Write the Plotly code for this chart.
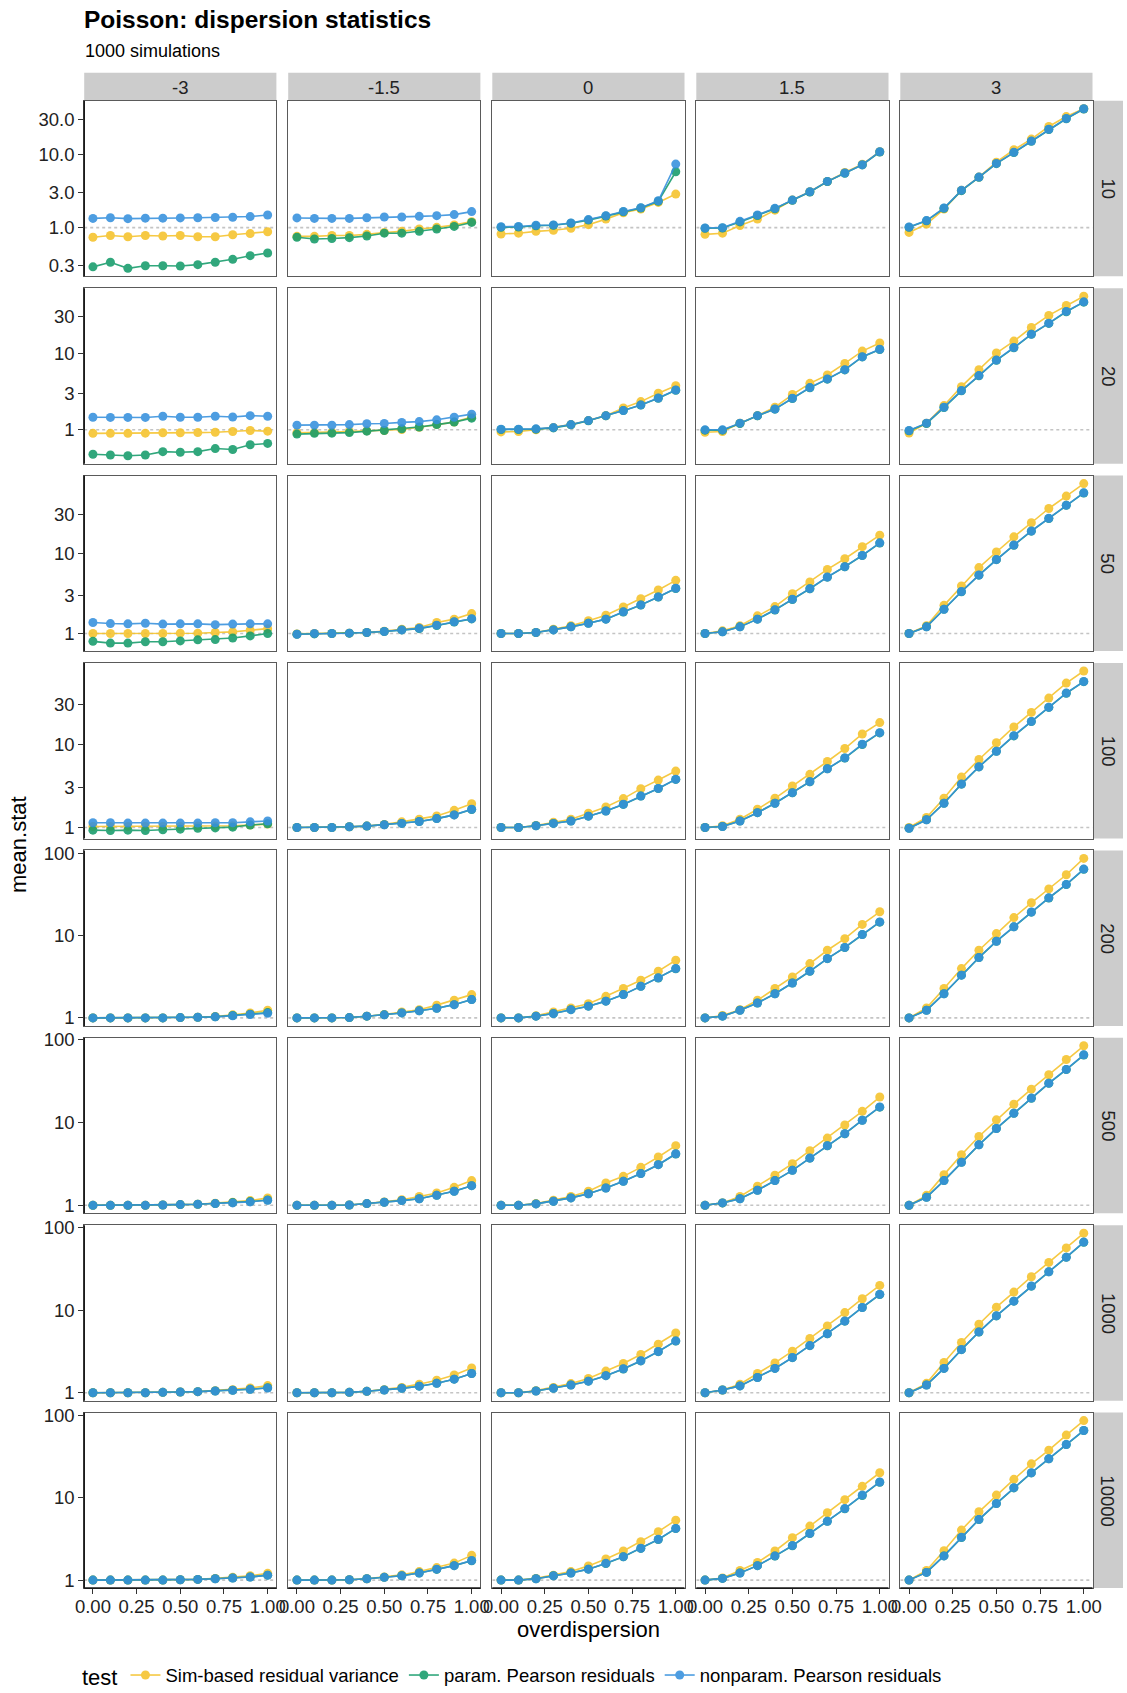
import plotly.graph_objects as go
import math

# ---------------- data ----------------
OVERDISPERSION = [0.0, 0.1, 0.2, 0.3, 0.4, 0.5, 0.6, 0.7, 0.8, 0.9, 1.0]
INTERCEPTS = ["-3", "-1.5", "0", "1.5", "3"]
SAMPLE_SIZES = ["10", "20", "50", "100", "200", "500", "1000", "10000"]
TESTS = ["Sim-based residual variance", "param. Pearson residuals", "nonparam. Pearson residuals"]
X_TICK_VALS = [0, 0.25, 0.5, 0.75, 1.0]
X_TICK_TEXT = ["0.00", "0.25", "0.50", "0.75", "1.00"]
Y_TICKS_N10 = ([0.3, 1, 3, 10, 30], ["0.3", "1.0", "3.0", "10.0", "30.0"])
Y_TICKS_SMALL = ([1, 3, 10, 30], ["1", "3", "10", "30"])
Y_TICKS_LARGE = ([1, 10, 100], ["1", "10", "100"])

# each array: one list per intercept (-3, -1.5, 0, 1.5, 3), 11 overdispersion values
SIM_10 = [
    [0.74, 0.78, 0.75, 0.78, 0.77, 0.78, 0.75, 0.75, 0.80, 0.83, 0.88],
    [0.76, 0.76, 0.78, 0.78, 0.81, 0.86, 0.89, 0.96, 1.01, 1.09, 1.21],
    [0.82, 0.84, 0.89, 0.92, 0.98, 1.10, 1.31, 1.60, 1.80, 2.22, 2.89],
    [0.81, 0.84, 1.07, 1.31, 1.74, 2.39, 3.11, 4.30, 5.70, 7.40, 11.0],
    [0.86, 1.12, 1.80, 3.25, 4.94, 7.90, 11.7, 16.4, 24.4, 33.4, 42.7],
]
PAR_10 = [
    [0.29, 0.335, 0.277, 0.30, 0.30, 0.298, 0.311, 0.335, 0.368, 0.413, 0.45],
    [0.74, 0.70, 0.71, 0.73, 0.77, 0.84, 0.84, 0.89, 0.96, 1.04, 1.18],
    [1.01, 1.02, 1.06, 1.08, 1.15, 1.27, 1.44, 1.65, 1.86, 2.30, 5.85],
    [0.98, 0.99, 1.20, 1.47, 1.82, 2.37, 3.08, 4.28, 5.58, 7.25, 10.9],
    [1.01, 1.24, 1.84, 3.22, 4.90, 7.55, 10.7, 15.3, 22.2, 31.2, 42.4],
]
NP_10 = [
    [1.34, 1.37, 1.33, 1.35, 1.35, 1.36, 1.37, 1.38, 1.39, 1.42, 1.49],
    [1.36, 1.34, 1.34, 1.34, 1.37, 1.40, 1.40, 1.43, 1.46, 1.51, 1.66],
    [1.03, 1.04, 1.08, 1.09, 1.16, 1.29, 1.46, 1.67, 1.88, 2.34, 7.45],
    [0.99, 1.00, 1.22, 1.49, 1.84, 2.39, 3.11, 4.31, 5.62, 7.30, 11.0],
    [1.02, 1.25, 1.86, 3.25, 4.94, 7.60, 10.8, 15.4, 22.4, 31.4, 42.7],
]

SIM_20 = [
    [0.90, 0.90, 0.90, 0.905, 0.915, 0.915, 0.92, 0.93, 0.95, 0.98, 0.96],
    [0.915, 0.92, 0.93, 0.95, 0.97, 0.98, 1.01, 1.08, 1.17, 1.26, 1.47],
    [0.94, 0.95, 1.00, 1.07, 1.17, 1.32, 1.53, 1.93, 2.33, 2.99, 3.76],
    [0.93, 0.95, 1.22, 1.53, 1.97, 2.88, 4.03, 5.18, 7.33, 10.6, 13.5],
    [0.91, 1.22, 2.07, 3.65, 6.07, 10.0, 14.3, 21.5, 30.9, 41.7, 55.0],
]
PAR_20 = [
    [0.48, 0.47, 0.46, 0.47, 0.52, 0.51, 0.52, 0.57, 0.555, 0.64, 0.665],
    [0.88, 0.90, 0.905, 0.92, 0.96, 0.98, 1.03, 1.09, 1.17, 1.26, 1.42],
    [1.01, 1.01, 1.02, 1.06, 1.16, 1.31, 1.52, 1.78, 2.10, 2.58, 3.28],
    [0.99, 0.99, 1.21, 1.52, 1.86, 2.56, 3.52, 4.57, 6.03, 8.90, 11.1],
    [0.97, 1.21, 1.95, 3.22, 5.05, 8.05, 11.7, 17.5, 24.3, 34.5, 46.0],
]
NP_20 = [
    [1.46, 1.45, 1.45, 1.45, 1.50, 1.46, 1.46, 1.50, 1.47, 1.53, 1.50],
    [1.15, 1.15, 1.15, 1.17, 1.20, 1.21, 1.25, 1.28, 1.35, 1.46, 1.60],
    [1.02, 1.02, 1.03, 1.07, 1.17, 1.32, 1.53, 1.78, 2.11, 2.60, 3.30],
    [1.00, 1.00, 1.22, 1.53, 1.87, 2.58, 3.55, 4.60, 6.07, 8.95, 11.2],
    [0.98, 1.22, 1.97, 3.24, 5.08, 8.10, 11.8, 17.6, 24.5, 34.8, 46.4],
]

SIM_50 = [
    [1.00, 1.00, 1.00, 1.00, 1.00, 1.01, 1.01, 1.03, 1.05, 1.10, 1.15],
    [0.99, 1.00, 1.00, 1.01, 1.03, 1.07, 1.13, 1.19, 1.37, 1.51, 1.77],
    [1.00, 1.00, 1.03, 1.13, 1.25, 1.44, 1.69, 2.14, 2.71, 3.48, 4.58],
    [1.00, 1.08, 1.25, 1.66, 2.16, 3.13, 4.37, 6.26, 8.50, 12.0, 16.7],
    [1.00, 1.25, 2.24, 3.90, 6.60, 10.3, 15.9, 23.8, 35.8, 51.0, 73.0],
]
PAR_50 = [
    [0.80, 0.76, 0.76, 0.79, 0.79, 0.81, 0.835, 0.84, 0.88, 0.935, 1.00],
    [0.98, 0.99, 1.00, 1.01, 1.03, 1.06, 1.11, 1.15, 1.26, 1.39, 1.52],
    [1.00, 1.00, 1.03, 1.11, 1.21, 1.34, 1.51, 1.85, 2.26, 2.84, 3.63],
    [1.00, 1.05, 1.21, 1.51, 1.96, 2.65, 3.60, 5.02, 6.75, 9.32, 13.3],
    [1.00, 1.21, 2.00, 3.31, 5.31, 8.28, 12.5, 18.7, 26.9, 39.2, 55.8],
]
NP_50 = [
    [1.37, 1.33, 1.32, 1.34, 1.31, 1.32, 1.32, 1.29, 1.31, 1.32, 1.32],
    [0.98, 1.00, 1.00, 1.01, 1.03, 1.06, 1.11, 1.16, 1.27, 1.40, 1.53],
    [1.00, 1.00, 1.03, 1.11, 1.21, 1.34, 1.51, 1.86, 2.27, 2.85, 3.65],
    [1.00, 1.05, 1.21, 1.51, 1.97, 2.66, 3.61, 5.04, 6.77, 9.35, 13.4],
    [1.00, 1.21, 2.00, 3.32, 5.33, 8.30, 12.6, 18.8, 27.0, 39.4, 56.0],
]

SIM_100 = [
    [1.03, 1.03, 1.03, 1.03, 1.03, 1.03, 1.04, 1.04, 1.05, 1.07, 1.10],
    [1.00, 1.00, 1.00, 1.02, 1.04, 1.09, 1.17, 1.26, 1.38, 1.61, 1.94],
    [1.00, 1.00, 1.06, 1.16, 1.26, 1.49, 1.77, 2.23, 2.94, 3.73, 4.79],
    [1.00, 1.05, 1.26, 1.66, 2.25, 3.16, 4.37, 6.25, 8.95, 13.4, 18.4],
    [1.00, 1.32, 2.25, 4.05, 6.60, 10.5, 16.3, 24.4, 36.3, 55.0, 77.0],
]
PAR_100 = [
    [0.93, 0.92, 0.93, 0.92, 0.94, 0.955, 0.98, 0.99, 1.01, 1.07, 1.11],
    [1.00, 1.00, 1.00, 1.02, 1.04, 1.08, 1.12, 1.18, 1.28, 1.42, 1.65],
    [1.00, 1.00, 1.05, 1.12, 1.20, 1.37, 1.58, 1.90, 2.39, 2.95, 3.80],
    [1.00, 1.03, 1.20, 1.51, 1.96, 2.62, 3.56, 5.10, 6.88, 10.0, 13.8],
    [0.98, 1.24, 1.96, 3.33, 5.38, 8.28, 12.7, 18.9, 28.0, 41.5, 57.2],
]
NP_100 = [
    [1.14, 1.14, 1.13, 1.13, 1.13, 1.13, 1.13, 1.14, 1.14, 1.17, 1.20],
    [1.00, 1.00, 1.00, 1.02, 1.04, 1.08, 1.12, 1.18, 1.28, 1.42, 1.66],
    [1.00, 1.00, 1.05, 1.12, 1.20, 1.37, 1.58, 1.91, 2.40, 2.96, 3.81],
    [1.00, 1.03, 1.20, 1.51, 1.96, 2.63, 3.57, 5.11, 6.90, 10.1, 13.9],
    [0.98, 1.24, 1.96, 3.34, 5.40, 8.30, 12.8, 19.0, 28.1, 41.7, 57.5],
]

SIM_200 = [
    [1.00, 1.00, 1.00, 1.00, 1.00, 1.01, 1.02, 1.04, 1.09, 1.15, 1.24],
    [1.00, 1.00, 1.00, 1.01, 1.05, 1.10, 1.18, 1.26, 1.43, 1.64, 1.92],
    [1.00, 1.00, 1.06, 1.18, 1.32, 1.49, 1.83, 2.28, 2.87, 3.70, 5.03],
    [1.00, 1.07, 1.26, 1.64, 2.28, 3.15, 4.58, 6.65, 9.20, 13.7, 19.5],
    [1.00, 1.32, 2.28, 3.98, 6.65, 10.6, 16.6, 25.1, 37.0, 55.0, 87.0],
]
PAR_200 = [
    [1.00, 1.00, 1.00, 1.00, 1.00, 1.01, 1.02, 1.03, 1.07, 1.11, 1.16],
    [1.00, 1.00, 1.00, 1.01, 1.05, 1.09, 1.15, 1.22, 1.31, 1.45, 1.67],
    [1.00, 1.00, 1.05, 1.13, 1.26, 1.39, 1.60, 1.92, 2.42, 3.06, 3.96],
    [1.00, 1.05, 1.24, 1.52, 1.97, 2.66, 3.69, 5.25, 7.18, 10.3, 14.6],
    [1.00, 1.24, 1.97, 3.31, 5.41, 8.54, 12.8, 19.3, 28.7, 41.8, 64.0],
]
NP_200 = [
    [1.00, 1.00, 1.00, 1.00, 1.00, 1.01, 1.02, 1.03, 1.06, 1.10, 1.14],
    [1.00, 1.00, 1.00, 1.01, 1.05, 1.09, 1.15, 1.22, 1.31, 1.45, 1.67],
    [1.00, 1.00, 1.05, 1.13, 1.26, 1.39, 1.60, 1.92, 2.43, 3.07, 3.98],
    [1.00, 1.05, 1.24, 1.52, 1.97, 2.66, 3.70, 5.27, 7.20, 10.3, 14.7],
    [1.00, 1.24, 1.97, 3.31, 5.42, 8.56, 12.8, 19.4, 28.8, 42.0, 64.4],
]

SIM_500 = [
    [1.00, 1.00, 1.00, 1.00, 1.01, 1.02, 1.03, 1.06, 1.09, 1.14, 1.23],
    [1.00, 1.00, 1.00, 1.01, 1.05, 1.10, 1.17, 1.28, 1.41, 1.65, 1.99],
    [1.00, 1.00, 1.05, 1.15, 1.28, 1.48, 1.86, 2.24, 2.88, 3.84, 5.27],
    [1.00, 1.07, 1.28, 1.70, 2.31, 3.19, 4.58, 6.50, 9.35, 13.7, 20.4],
    [1.00, 1.32, 2.35, 4.09, 6.80, 10.8, 16.7, 25.4, 37.9, 58.0, 85.0],
]
PAR_500 = [
    [1.00, 1.00, 1.00, 1.00, 1.01, 1.02, 1.03, 1.05, 1.08, 1.11, 1.16],
    [1.00, 1.00, 1.00, 1.01, 1.05, 1.09, 1.14, 1.20, 1.32, 1.48, 1.73],
    [1.00, 1.00, 1.04, 1.12, 1.23, 1.38, 1.62, 1.95, 2.42, 3.10, 4.18],
    [1.00, 1.07, 1.20, 1.52, 1.99, 2.65, 3.72, 5.25, 7.33, 10.7, 15.4],
    [1.00, 1.25, 1.99, 3.31, 5.39, 8.48, 13.0, 19.7, 29.9, 43.8, 65.7],
]
NP_500 = [
    [1.00, 1.00, 1.00, 1.00, 1.01, 1.02, 1.03, 1.05, 1.07, 1.10, 1.15],
    [1.00, 1.00, 1.00, 1.01, 1.05, 1.09, 1.14, 1.20, 1.32, 1.48, 1.73],
    [1.00, 1.00, 1.04, 1.12, 1.23, 1.38, 1.62, 1.95, 2.42, 3.10, 4.20],
    [1.00, 1.07, 1.20, 1.52, 1.99, 2.65, 3.73, 5.27, 7.35, 10.7, 15.5],
    [1.00, 1.25, 1.99, 3.31, 5.40, 8.50, 13.0, 19.8, 30.0, 44.0, 66.0],
]

SIM_1000 = [
    [1.00, 1.00, 1.00, 1.00, 1.01, 1.02, 1.03, 1.06, 1.09, 1.14, 1.22],
    [1.00, 1.00, 1.00, 1.01, 1.04, 1.09, 1.16, 1.27, 1.42, 1.64, 2.00],
    [1.00, 1.00, 1.06, 1.16, 1.29, 1.49, 1.83, 2.26, 2.91, 3.88, 5.30],
    [1.00, 1.08, 1.27, 1.71, 2.30, 3.19, 4.54, 6.46, 9.36, 13.8, 20.0],
    [1.00, 1.30, 2.33, 4.06, 6.77, 10.9, 16.6, 25.5, 38.0, 57.0, 86.0],
]
PAR_1000 = [
    [1.00, 1.00, 1.00, 1.00, 1.01, 1.02, 1.03, 1.05, 1.07, 1.10, 1.15],
    [1.00, 1.00, 1.00, 1.01, 1.04, 1.08, 1.13, 1.20, 1.30, 1.46, 1.71],
    [1.00, 1.00, 1.05, 1.13, 1.24, 1.38, 1.61, 1.94, 2.43, 3.15, 4.23],
    [1.00, 1.08, 1.21, 1.53, 1.97, 2.66, 3.72, 5.18, 7.38, 10.8, 15.5],
    [1.00, 1.24, 1.97, 3.33, 5.45, 8.53, 12.9, 19.6, 29.2, 43.8, 66.7],
]
NP_1000 = [
    [1.00, 1.00, 1.00, 1.00, 1.01, 1.02, 1.03, 1.05, 1.07, 1.10, 1.14],
    [1.00, 1.00, 1.00, 1.01, 1.04, 1.08, 1.13, 1.20, 1.30, 1.46, 1.71],
    [1.00, 1.00, 1.05, 1.13, 1.24, 1.38, 1.61, 1.95, 2.44, 3.16, 4.25],
    [1.00, 1.08, 1.21, 1.53, 1.97, 2.67, 3.73, 5.20, 7.40, 10.8, 15.6],
    [1.00, 1.24, 1.97, 3.34, 5.46, 8.55, 12.9, 19.7, 29.3, 44.0, 67.0],
]

SIM_10000 = [
    [1.00, 1.00, 1.00, 1.00, 1.00, 1.01, 1.02, 1.05, 1.08, 1.13, 1.21],
    [1.00, 1.00, 1.00, 1.01, 1.04, 1.09, 1.16, 1.27, 1.42, 1.61, 2.00],
    [1.00, 1.00, 1.05, 1.15, 1.27, 1.49, 1.81, 2.26, 2.93, 3.88, 5.36],
    [1.00, 1.06, 1.31, 1.64, 2.26, 3.28, 4.54, 6.60, 9.50, 13.8, 20.2],
    [1.00, 1.31, 2.28, 4.06, 6.77, 10.8, 16.8, 25.9, 38.0, 58.0, 87.0],
]
PAR_10000 = [
    [1.00, 1.00, 1.00, 1.00, 1.00, 1.01, 1.02, 1.04, 1.06, 1.09, 1.15],
    [1.00, 1.00, 1.00, 1.01, 1.04, 1.08, 1.13, 1.22, 1.35, 1.50, 1.72],
    [1.00, 1.00, 1.04, 1.13, 1.22, 1.36, 1.59, 1.92, 2.43, 3.12, 4.23],
    [1.00, 1.05, 1.22, 1.50, 1.96, 2.62, 3.69, 5.18, 7.38, 10.7, 15.5],
    [1.00, 1.24, 1.97, 3.30, 5.45, 8.52, 13.2, 20.1, 29.8, 44.4, 65.8],
]
NP_10000 = [
    [1.00, 1.00, 1.00, 1.00, 1.00, 1.01, 1.02, 1.04, 1.06, 1.09, 1.15],
    [1.00, 1.00, 1.00, 1.01, 1.04, 1.08, 1.13, 1.22, 1.36, 1.50, 1.73],
    [1.00, 1.00, 1.04, 1.13, 1.22, 1.36, 1.60, 1.93, 2.44, 3.13, 4.25],
    [1.00, 1.05, 1.22, 1.50, 1.97, 2.63, 3.70, 5.20, 7.40, 10.8, 15.6],
    [1.00, 1.24, 1.97, 3.31, 5.47, 8.55, 13.3, 20.2, 29.9, 44.6, 66.0],
]

ROWS = [
    (SIM_10, PAR_10, NP_10, Y_TICKS_N10),
    (SIM_20, PAR_20, NP_20, Y_TICKS_SMALL),
    (SIM_50, PAR_50, NP_50, Y_TICKS_SMALL),
    (SIM_100, PAR_100, NP_100, Y_TICKS_SMALL),
    (SIM_200, PAR_200, NP_200, Y_TICKS_LARGE),
    (SIM_500, PAR_500, NP_500, Y_TICKS_LARGE),
    (SIM_1000, PAR_1000, NP_1000, Y_TICKS_LARGE),
    (SIM_10000, PAR_10000, NP_10000, Y_TICKS_LARGE),
]

# ---------------- style / layout ----------------
COLORS = ["#F5C22A", "#159C6B", "#3590DD"]
W, H = 1127, 1693
FONT = "Liberation Sans, Arial, Helvetica, sans-serif"
COL_LEFT = [84.2, 288.2, 492.3, 696.3, 900.3]
PANEL_W = 192.2
ROW_TOP0 = 100.8
ROW_PITCH = 187.4
PANEL_H = 175.5
STRIP_TOP = 72.7
STRIP_RIGHT_W = 30.0
TEXT_COL = "#222222"


def px(x):
    return x / W


def py(y):
    return 1 - y / H


fig = go.Figure()
layout_axes = {}
shapes = []
annotations = []

for r, (sim, par, npv, yt) in enumerate(ROWS):
    top = ROW_TOP0 + r * ROW_PITCH
    bot = top + PANEL_H
    allv = [v for arr in (sim, par, npv) for col in arr for v in col] + [1.0]
    lo, hi = math.log10(min(allv)), math.log10(max(allv))
    pad = 0.05 * (hi - lo)
    yrange = [lo - pad, hi + pad]
    for c in range(5):
        k = r * 5 + c + 1
        xa = "x" if k == 1 else f"x{k}"
        ya = "y" if k == 1 else f"y{k}"
        xkey = "xaxis" if k == 1 else f"xaxis{k}"
        ykey = "yaxis" if k == 1 else f"yaxis{k}"
        left = COL_LEFT[c]
        right = left + PANEL_W
        bottom_row = r == len(ROWS) - 1
        layout_axes[xkey] = dict(
            domain=[px(left), px(right)], anchor=ya, range=[-0.05, 1.05],
            automargin=False,
            showgrid=False, zeroline=False, showline=True, mirror=True,
            linecolor="#5a5a5a", linewidth=1,
            tickvals=X_TICK_VALS, ticktext=X_TICK_TEXT,
            showticklabels=bottom_row, ticks="outside" if bottom_row else "",
            ticklen=5, tickwidth=1, tickcolor="#333333", ticklabelstandoff=-3,
            tickfont=dict(family=FONT, size=18.5, color=TEXT_COL),
        )
        layout_axes[ykey] = dict(
            domain=[py(bot), py(top)], anchor=xa, type="log", range=yrange,
            automargin=False,
            showgrid=False, zeroline=False, showline=True, mirror=True,
            linecolor="#5a5a5a", linewidth=1,
            tickvals=yt[0], ticktext=yt[1],
            showticklabels=(c == 0), ticks="outside" if c == 0 else "",
            ticklen=5, tickwidth=1, tickcolor="#333333",
            tickfont=dict(family=FONT, size=18.5, color=TEXT_COL),
        )
        # reference line at 1
        fig.add_trace(go.Scatter(
            x=[-0.05, 1.05], y=[1, 1], mode="lines", xaxis=xa, yaxis=ya,
            line=dict(color="#c4c4c4", width=1.6, dash="dot"),
            showlegend=False, hoverinfo="skip",
        ))
        for t, arr in enumerate((sim, par, npv)):
            fig.add_trace(go.Scatter(
                x=OVERDISPERSION, y=arr[c], mode="lines+markers",
                xaxis=xa, yaxis=ya, name=TESTS[t], legendgroup=TESTS[t],
                showlegend=(k == 1), opacity=0.88,
                line=dict(color=COLORS[t], width=1.6),
                marker=dict(color=COLORS[t], size=9, line=dict(width=0)),
            ))
        # column strip
        if r == 0:
            shapes.append(dict(type="rect", xref="paper", yref="paper",
                               x0=px(left), x1=px(right), y0=py(top), y1=py(STRIP_TOP),
                               fillcolor="#cccccc", line=dict(width=0), layer="below"))
            annotations.append(dict(text=INTERCEPTS[c], xref="paper", yref="paper",
                                    x=px((left + right) / 2), y=py((STRIP_TOP + top) / 2 + 1),
                                    xanchor="center", yanchor="middle", showarrow=False,
                                    font=dict(family=FONT, size=18.5, color=TEXT_COL)))
    # row strip
    rl = COL_LEFT[4] + PANEL_W
    shapes.append(dict(type="rect", xref="paper", yref="paper",
                       x0=px(rl + 0.5), x1=px(rl + 0.5 + STRIP_RIGHT_W), y0=py(bot), y1=py(top),
                       fillcolor="#cccccc", line=dict(width=0), layer="below"))
    annotations.append(dict(text=SAMPLE_SIZES[r], xref="paper", yref="paper",
                            x=px(rl + 0.5 + STRIP_RIGHT_W / 2), y=py((top + bot) / 2),
                            xanchor="center", yanchor="middle", textangle=90, showarrow=False,
                            font=dict(family=FONT, size=18.5, color=TEXT_COL)))
    # dark left axis line
    shapes.append(dict(type="line", xref="paper", yref="paper",
                       x0=px(COL_LEFT[0]), x1=px(COL_LEFT[0]), y0=py(bot), y1=py(top),
                       line=dict(color="#1a1a1a", width=1.6), layer="above"))

# dark bottom axis lines
last_top = ROW_TOP0 + (len(ROWS) - 1) * ROW_PITCH
for c in range(5):
    shapes.append(dict(type="line", xref="paper", yref="paper",
                       x0=px(COL_LEFT[c]), x1=px(COL_LEFT[c] + PANEL_W),
                       y0=py(last_top + PANEL_H), y1=py(last_top + PANEL_H),
                       line=dict(color="#1a1a1a", width=1.6), layer="above"))

# titles
annotations += [
    dict(text="<b>Poisson: dispersion statistics</b>", xref="paper", yref="paper",
         x=px(82), y=py(19), xanchor="left", yanchor="middle", showarrow=False,
         font=dict(family=FONT, size=24.5, color="#000000")),
    dict(text="1000 simulations", xref="paper", yref="paper",
         x=px(83), y=py(51), xanchor="left", yanchor="middle", showarrow=False,
         font=dict(family=FONT, size=18, color="#000000")),
    dict(text="mean.stat", xref="paper", yref="paper",
         x=px(19), y=py(845), xanchor="center", yanchor="middle", textangle=-90,
         showarrow=False, font=dict(family=FONT, size=22, color="#000000")),
    dict(text="overdispersion", xref="paper", yref="paper",
         x=px(588), y=py(1629), xanchor="center", yanchor="middle",
         showarrow=False, font=dict(family=FONT, size=22, color="#000000")),
]

fig.update_layout(
    width=W, height=H, margin=dict(l=0, r=0, t=0, b=0, autoexpand=False),
    paper_bgcolor="white", plot_bgcolor="rgba(0,0,0,0)",
    font=dict(family=FONT, color="#000000"),
    shapes=shapes, annotations=annotations,
    showlegend=True,
    legend=dict(
        orientation="h", x=px(80), y=py(1676), xanchor="left", yanchor="middle",
        title=dict(text="test", font=dict(family=FONT, size=22, color="#000000"), side="left"),
        font=dict(family=FONT, size=18.5, color="#000000"),
        itemwidth=30, bgcolor="rgba(0,0,0,0)", tracegroupgap=0,
    ),
    **layout_axes,
)

fig.write_html(
    "out.html",
    post_script="document.body.style.margin='0';document.body.style.padding='0';"
                "document.documentElement.style.overflow='hidden';",
)
